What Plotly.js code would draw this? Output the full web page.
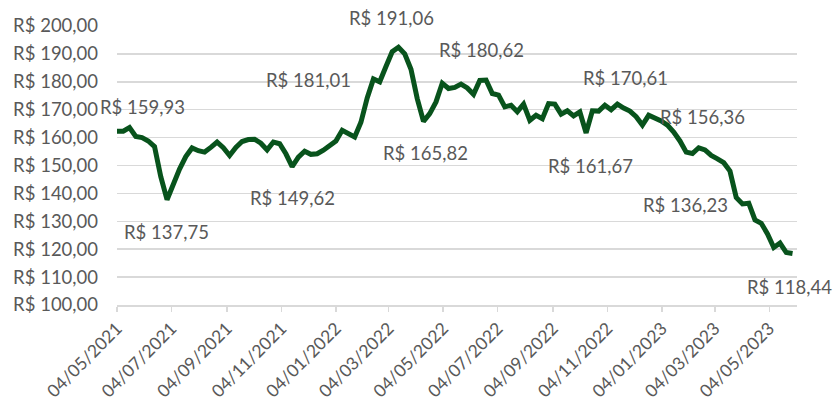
<!DOCTYPE html>
<html>
<head>
<meta charset="utf-8">
<script src="https://cdn.plot.ly/plotly-3.0.1.min.js"></script>
<style>html,body{margin:0;padding:0;background:#fff;}#chart{width:835px;height:403px;}</style>
</head>
<body>
<div id="chart"></div>
<script>
// Weekly dates
var dates = [
"2021-05-04","2021-05-11","2021-05-18","2021-05-25","2021-06-01","2021-06-08","2021-06-15","2021-06-22","2021-06-29",
"2021-07-06","2021-07-13","2021-07-20","2021-07-27","2021-08-03","2021-08-10","2021-08-17","2021-08-24","2021-08-31",
"2021-09-07","2021-09-14","2021-09-21","2021-09-28","2021-10-05","2021-10-12","2021-10-19","2021-10-26",
"2021-11-02","2021-11-09","2021-11-16","2021-11-23","2021-11-30","2021-12-07","2021-12-14","2021-12-21","2021-12-28",
"2022-01-04","2022-01-11","2022-01-18","2022-01-25","2022-02-01","2022-02-08","2022-02-15","2022-02-22",
"2022-03-01","2022-03-08","2022-03-15","2022-03-22","2022-03-29","2022-04-05","2022-04-12","2022-04-19","2022-04-26",
"2022-05-03","2022-05-10","2022-05-17","2022-05-24","2022-05-31","2022-06-07","2022-06-14","2022-06-21","2022-06-28",
"2022-07-05","2022-07-12","2022-07-19","2022-07-26","2022-08-02","2022-08-09","2022-08-16","2022-08-23","2022-08-30",
"2022-09-06","2022-09-13","2022-09-20","2022-09-27","2022-10-04","2022-10-11","2022-10-18","2022-10-25",
"2022-11-01","2022-11-08","2022-11-15","2022-11-22","2022-11-29","2022-12-06","2022-12-13","2022-12-20","2022-12-27",
"2023-01-03","2023-01-10","2023-01-17","2023-01-24","2023-01-31","2023-02-07","2023-02-14","2023-02-21","2023-02-28",
"2023-03-07","2023-03-14","2023-03-21","2023-03-28","2023-04-04","2023-04-11","2023-04-18","2023-04-25",
"2023-05-02","2023-05-09","2023-05-16","2023-05-23","2023-05-30"
];
// Prices (R$)
var prices = [
162.3,162.3,163.6,160.4,160.0,158.8,156.8,146.0,137.75,
143.5,148.7,153.2,156.3,155.3,154.8,156.5,158.4,156.4,
153.6,156.5,158.6,159.3,159.4,158.0,155.6,158.4,
157.8,154.2,149.62,153.0,155.1,154.0,154.2,155.5,157.0,
158.8,162.6,161.6,160.2,165.5,174.2,181.01,180.0,
185.5,190.8,192.4,190.0,184.5,174.0,165.82,168.6,172.8,
179.5,177.6,178.0,179.2,177.8,175.5,180.5,180.62,175.8,
175.2,171.0,171.6,169.3,172.0,166.2,168.0,166.8,172.2,
172.0,168.4,169.6,167.8,169.2,161.67,169.6,169.5,
171.6,170.0,172.0,170.61,169.5,167.5,164.5,168.0,167.2,
166.0,164.5,162.0,158.8,154.8,154.3,156.36,155.6,153.6,
152.4,151.0,148.0,138.5,136.23,136.5,130.5,129.3,
125.5,120.6,122.2,118.8,118.44
];
// Label texts shown on the chart
var labelTexts = ["R$ 159,93","R$ 137,75","R$ 149,62","R$ 181,01","R$ 191,06","R$ 165,82",
                  "R$ 180,62","R$ 161,67","R$ 170,61","R$ 156,36","R$ 136,23","R$ 118,44"];
// Label positions in pixels (center x, center y)
var labelPx = [[142,107],[166,232],[292,198],[308,80],[391,18],[425,153],
               [481,50],[590,166],[625,78],[702,117],[685,205],[789,287]];

var L = 117, R = 797, T = 26, B = 305;
var font = {family: "Lato, 'Open Sans', sans-serif", size: 18.5, color: "#595959"};
var xfont = {family: "Lato, 'Open Sans', sans-serif", size: 17.5, color: "#595959"};
var annotations = labelTexts.map(function(t, i){
  return {
    text: t, showarrow: false, xref: "paper", yref: "paper",
    x: (labelPx[i][0] - L) / (R - L), y: (B - labelPx[i][1]) / (B - T),
    xanchor: "center", yanchor: "middle", font: font
  };
});

var trace = {
  x: dates, y: prices, type: "scatter", mode: "lines",
  line: {color: "#08531c", width: 5},
  hoverinfo: "skip"
};

var layout = {
  width: 835, height: 403,
  margin: {l: L, r: 835 - R, t: T, b: 403 - B, pad: 0},
  paper_bgcolor: "#ffffff", plot_bgcolor: "#ffffff",
  showlegend: false,
  separators: ",.",
  font: font,
  xaxis: {
    type: "date",
    range: ["2021-05-04", "2023-06-04"],
    tick0: "2021-05-04", dtick: "M2",
    tickformat: "%d/%m/%Y",
    tickangle: -45,
    showgrid: false, zeroline: false,
    showline: true, linecolor: "#d9d9d9", linewidth: 1.5,
    ticks: "outside", ticklen: 5, tickcolor: "#d9d9d9", tickwidth: 1.5,
    tickfont: xfont
  },
  yaxis: {
    range: [100, 200],
    dtick: 10,
    tickprefix: "R$ ",
    tickformat: ".2f",
    showgrid: true, gridcolor: "#d9d9d9", gridwidth: 1.5,
    zeroline: false, showline: false, ticks: "",
    ticklabelstandoff: 18,
    tickfont: font
  },
  annotations: annotations
};

Plotly.newPlot("chart", [trace], layout, {displayModeBar: false, staticPlot: true});
</script>
</body>
</html>
